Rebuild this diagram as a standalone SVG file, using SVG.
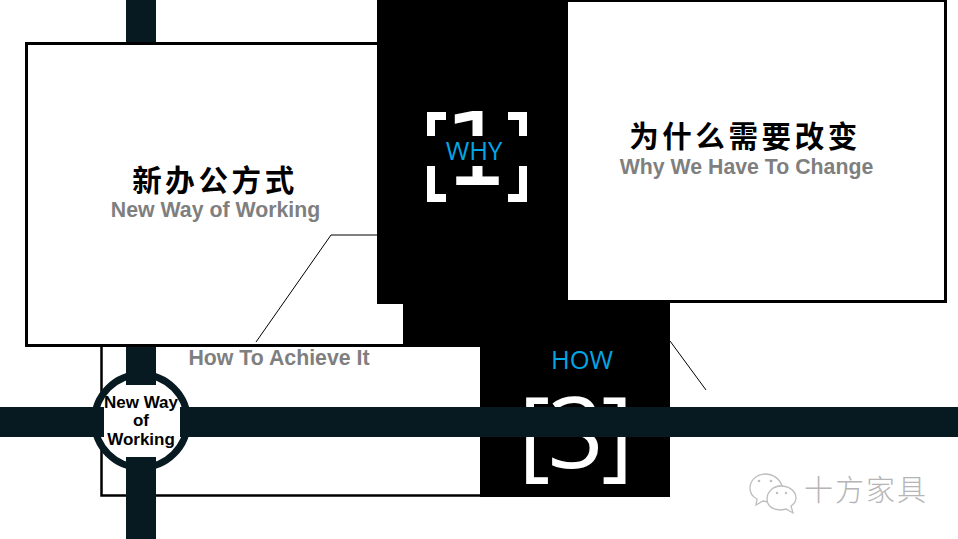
<svg xmlns="http://www.w3.org/2000/svg" width="958" height="539" viewBox="0 0 958 539">
<style>
.box{fill:#fff;stroke:#000;stroke-width:3}
.blk{fill:#000}
.band{fill:#071a21}
.cn{font-family:"Noto Sans CJK SC",sans-serif;font-weight:700;font-size:29.500px;letter-spacing:3.600px;fill:#000;text-anchor:middle}
.en{font-family:"Liberation Sans",Arial,sans-serif;font-weight:700;font-size:21.300px;fill:#7f7f7f;text-anchor:middle}
.blue{font-family:"Open Sans",sans-serif;font-size:25.500px;fill:#00a6e6;text-anchor:middle}
.ln{fill:none;stroke:#000;stroke-width:1}
.hub{font-family:"Liberation Sans",Arial,sans-serif;font-weight:700;font-size:17px;fill:#000;text-anchor:middle}
.wb{fill:#fff;stroke:#bdbdbd;stroke-width:1.300}
.wd{fill:#bdbdbd}
</style>
<rect width="958" height="539" fill="#fff"/>
<g id="frame-how">
<rect class="box" x="101.500" y="345" width="385" height="150.500" style="stroke-width:2.500"/>
</g>
<g id="node-new-way">
<rect class="box" x="26.500" y="43.500" width="378" height="302"/>
<text class="cn" x="215" y="191">新办公方式</text>
<text class="en" x="215.500" y="217">New Way of Working</text>
</g>
<g id="node-why">
<rect class="blk" x="377" y="0" width="190" height="304"/>
<text x="476" y="185" font-family="'DejaVu Sans',sans-serif" font-size="101" fill="#fff" text-anchor="middle">1</text>
<path fill="none" stroke="#fff" stroke-width="8" d="M446 116H431V136M508 116H523V136M431 166V198H446M523 166V198H508"/>
<rect class="blk" x="440" y="136" width="75" height="30"/>
<text class="blue" x="474" y="160">WHY</text>
</g>
<g id="node-how">
<rect class="blk" x="403" y="303" width="267" height="44"/>
<rect class="blk" x="480" y="345" width="190" height="152"/>
<text class="blue" x="582" y="369">HOW</text>
<text x="574.500" y="468" font-family="'Open Sans',sans-serif" font-size="98" letter-spacing="-2.500" fill="#fff" text-anchor="middle">[3]</text>
</g>
<g id="node-change">
<rect class="box" x="566.500" y="0.500" width="379" height="301"/>
<text class="cn" x="745" y="147">为什么需要改变</text>
<text class="en" x="746.500" y="174">Why We Have To Change</text>
</g>
<text class="en" x="279" y="365">How To Achieve It</text>
<g id="node-hub">
<circle cx="141" cy="421" r="46.500" fill="#fff" stroke="#071a21" stroke-width="7"/>
</g>
<g id="connectors">
<path class="ln" d="M378 235H331L256 342"/>
<path class="ln" d="M670 341L706 390"/>
<rect class="band" x="126" y="0" width="30" height="42"/>
<rect class="band" x="126" y="347" width="30" height="38"/>
<rect class="band" x="126" y="457" width="30" height="82"/>
<rect class="band" x="0" y="407" width="104" height="30"/>
<rect class="band" x="180" y="407" width="778" height="30"/>
</g>
<g id="hub-label">
<text class="hub" x="141" y="408">New Way</text>
<text class="hub" x="141" y="426">of</text>
<text class="hub" x="141" y="445">Working</text>
</g>
<g id="watermark">
<path class="wb" d="M765 474C756 474 750 481 750 488C750 493 753 497 757 499L756 505L763 501L768 502C766 494 772 486 782 486C780 479 773 474 765 474Z"/>
<path class="wb" d="M781 486C773 486 767 492 767 499C767 506 773 510 781 510L786 509L793 513L791 506C794 504 796 502 796 498C796 491 789 486 781 486Z"/>
<circle class="wd" cx="759" cy="481" r="1.300"/>
<circle class="wd" cx="771" cy="481" r="1.300"/>
<circle class="wd" cx="777" cy="493" r="1.200"/>
<circle class="wd" cx="786" cy="493" r="1.200"/>
<text x="866" y="501" font-family="'Noto Sans CJK SC',sans-serif" font-weight="300" font-size="29" letter-spacing="2" fill="#b5b5b5" text-anchor="middle">十方家具</text>
</g>
</svg>
